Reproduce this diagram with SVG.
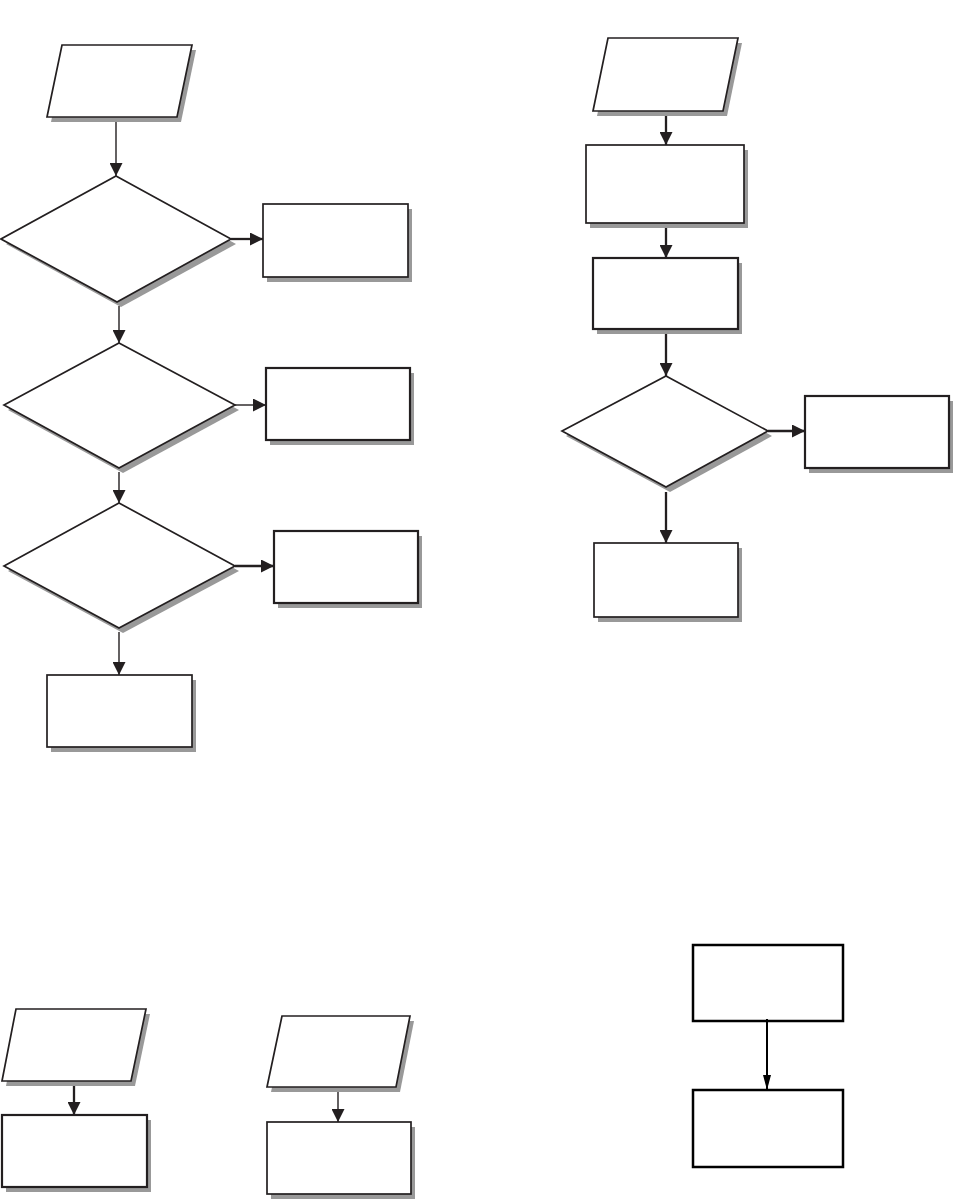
<svg xmlns="http://www.w3.org/2000/svg" width="955" height="1200" viewBox="0 0 955 1200">
<style>
.sh{fill:#999999;stroke:none}
.n{fill:#ffffff;stroke:#231f20;stroke-width:1.7}
.nb{fill:#ffffff;stroke:#231f20;stroke-width:2.2}
.nc{fill:#ffffff;stroke:#000000;stroke-width:2.5}
.c{stroke:#231f20;stroke-width:1.4;fill:none}
.ct{stroke:#231f20;stroke-width:2.3;fill:none}
</style>
<defs>
<marker id="ah" viewBox="0 0 13 13" refX="13" refY="6.5" markerWidth="13" markerHeight="13" markerUnits="userSpaceOnUse" orient="auto">
<path d="M0,0 L13,6.5 L0,13 Z" fill="#231f20"/>
</marker>
<marker id="ahn" viewBox="0 0 15 8" refX="15" refY="4" markerWidth="15" markerHeight="8" markerUnits="userSpaceOnUse" orient="auto">
<path d="M0,0 L15,4 L0,8 Z" fill="#000000"/>
</marker>
</defs>
<rect width="955" height="1200" fill="#ffffff"/>

<g id="p1"><polygon class="sh" points="66,50 196,50 181,122 51,122"/><polygon class="n" points="62,45 192,45 177,117 47,117"/></g>
<g id="d1"><polygon class="sh" points="121,181 236,244 121,307 6,244"/><polygon class="n" points="116,176 231,239 117,302 1,239"/></g>
<g id="b1"><rect class="sh" x="267" y="209" width="145" height="73"/><rect class="n" x="263" y="204" width="145" height="73"/></g>
<g id="d2"><polygon class="sh" points="123,348 239,410 123,473 8,410"/><polygon class="n" points="119,343 235,405 119,468 4,405"/></g>
<g id="b2"><rect class="sh" x="270" y="373" width="144" height="72"/><rect class="nb" x="266" y="368" width="144" height="72"/></g>
<g id="d3"><polygon class="sh" points="123,508 239,571 123,633 8,571"/><polygon class="n" points="119,503 235,566 119,628 4,566"/></g>
<g id="b3"><rect class="sh" x="278" y="536" width="144" height="72"/><rect class="nb" x="274" y="531" width="144" height="72"/></g>
<g id="b4"><rect class="sh" x="51" y="680" width="145" height="72"/><rect class="n" x="47" y="675" width="145" height="72"/></g>

<g id="p2"><polygon class="sh" points="612,43 742,43 727,116 597,116"/><polygon class="n" points="608,38 738,38 723,111 593,111"/></g>
<g id="bA"><rect class="sh" x="590" y="150" width="158" height="78"/><rect class="n" x="586" y="145" width="158" height="78"/></g>
<g id="bB"><rect class="sh" x="597" y="263" width="145" height="71"/><rect class="nb" x="593" y="258" width="145" height="71"/></g>
<g id="d4"><polygon class="sh" points="670,381 772,436 670,492 566,436"/><polygon class="n" points="666,376 768,431 666,487 562,431"/></g>
<g id="bC"><rect class="sh" x="809" y="401" width="144" height="72"/><rect class="nb" x="805" y="396" width="144" height="72"/></g>
<g id="bD"><rect class="sh" x="598" y="548" width="144" height="74"/><rect class="n" x="594" y="543" width="144" height="74"/></g>

<g id="p3"><polygon class="sh" points="20,1014 150,1014 135,1086 6,1086"/><polygon class="n" points="16,1009 146,1009 131,1081 2,1081"/></g>
<g id="bE"><rect class="sh" x="6" y="1120" width="145" height="72"/><rect class="nb" x="2" y="1115" width="145" height="72"/></g>
<g id="p4"><polygon class="sh" points="286,1021 414,1021 400,1092 271,1092"/><polygon class="n" points="282,1016 410,1016 396,1087 267,1087"/></g>
<g id="bF"><rect class="sh" x="271" y="1127" width="144" height="72"/><rect class="n" x="267" y="1122" width="144" height="72"/></g>

<g id="bG"><rect class="nc" x="693" y="945" width="150" height="76"/></g>
<g id="bH"><rect class="nc" x="693" y="1090" width="150" height="77"/></g>

<g id="connectors">
<line class="c" x1="116" y1="122" x2="116" y2="176" marker-end="url(#ah)"/>
<line class="ct" x1="231" y1="239" x2="263" y2="239" marker-end="url(#ah)"/>
<line class="c" x1="119" y1="306" x2="119" y2="343" marker-end="url(#ah)"/>
<line class="c" x1="235" y1="405" x2="266" y2="405" marker-end="url(#ah)"/>
<line class="c" x1="119" y1="472" x2="119" y2="503" marker-end="url(#ah)"/>
<line class="ct" x1="235" y1="566" x2="274" y2="566" marker-end="url(#ah)"/>
<line class="c" x1="119" y1="632" x2="119" y2="675" marker-end="url(#ah)"/>
<line class="ct" x1="666" y1="116" x2="666" y2="145" marker-end="url(#ah)"/>
<line class="ct" x1="666" y1="228" x2="666" y2="258" marker-end="url(#ah)"/>
<line class="ct" x1="666" y1="334" x2="666" y2="376" marker-end="url(#ah)"/>
<line class="ct" x1="768" y1="431" x2="805" y2="431" marker-end="url(#ah)"/>
<line class="ct" x1="666" y1="492" x2="666" y2="543" marker-end="url(#ah)"/>
<line class="ct" x1="74" y1="1086" x2="74" y2="1115" marker-end="url(#ah)"/>
<line class="c" x1="338" y1="1092" x2="338" y2="1122" marker-end="url(#ah)"/>
<line stroke="#000000" stroke-width="2" x1="767" y1="1019" x2="767" y2="1090" marker-end="url(#ahn)"/>
</g>
</svg>
